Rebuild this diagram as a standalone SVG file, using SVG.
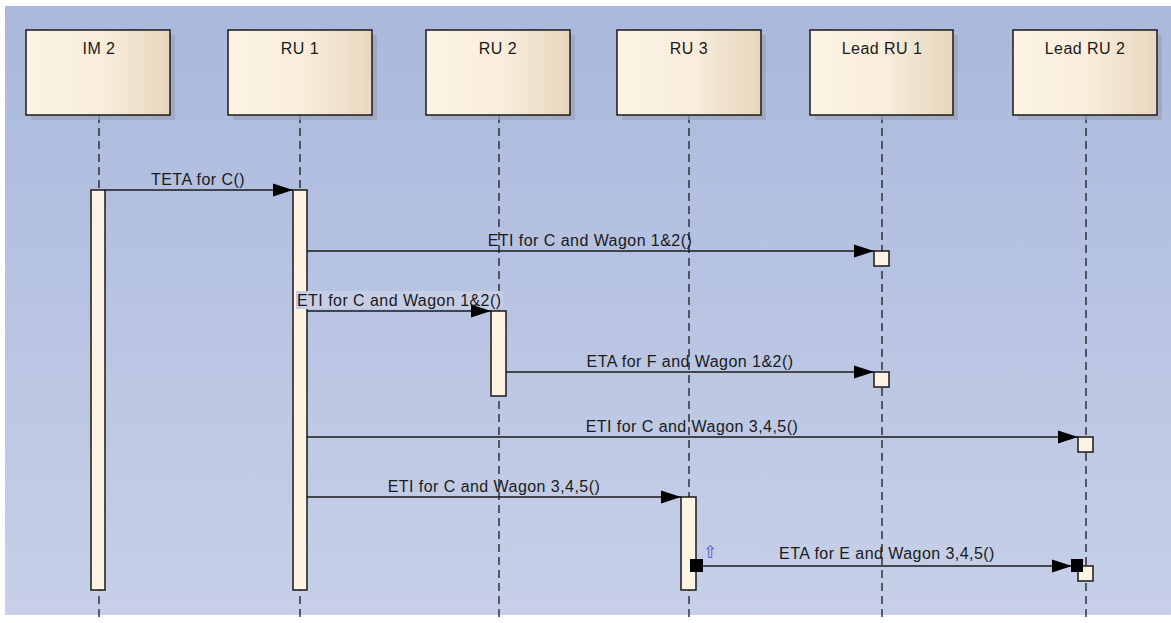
<svg xmlns="http://www.w3.org/2000/svg" width="1171" height="623" viewBox="0 0 1171 623">
<defs>
<linearGradient id="bg" x1="0" y1="0" x2="0" y2="1">
<stop offset="0" stop-color="#a9b8dc"/>
<stop offset="1" stop-color="#c7d0e8"/>
</linearGradient>
<linearGradient id="box" x1="0" y1="0" x2="1" y2="0">
<stop offset="0" stop-color="#fcf3e4"/>
<stop offset="0.5" stop-color="#f9eedd"/>
<stop offset="1" stop-color="#e7d7bd"/>
</linearGradient>
<marker id="ah" markerUnits="userSpaceOnUse" markerWidth="21" markerHeight="14" refX="20" refY="7" orient="auto">
<path d="M0,0.5 L20,7 L0,13.5 z" fill="#000"/>
</marker>
</defs>
<style>
.lbl{font-family:"Liberation Sans",Arial,sans-serif;font-size:16px;letter-spacing:0.45px;fill:#1a1a1a}
.mid{text-anchor:middle}
.shadow{fill:#9aa3b8;opacity:0.7}
.head{fill:url(#box);stroke:#1a1a1a;stroke-width:1.5}
.life{stroke:#1a1a1a;stroke-width:1.3;stroke-dasharray:8,5;fill:none}
.act{fill:#fdf3e3;stroke:#1a1a1a;stroke-width:1.5}
.msg{stroke:#1a1a1a;stroke-width:1.3;fill:none;marker-end:url(#ah)}
</style>
<rect x="0" y="0" width="1171" height="623" fill="#ffffff"/>
<rect x="5" y="6" width="1166" height="609" fill="url(#bg)"/>

<g id="lifelines">
<line class="life" x1="99" y1="115" x2="99" y2="620"/>
<line class="life" x1="300" y1="115" x2="300" y2="620"/>
<line class="life" x1="499" y1="115" x2="499" y2="620"/>
<line class="life" x1="689" y1="115" x2="689" y2="620"/>
<line class="life" x1="882" y1="115" x2="882" y2="620"/>
<line class="life" x1="1086" y1="115" x2="1086" y2="620"/>
</g>

<g id="im2">
<rect class="shadow" x="31" y="35" width="144" height="85"/>
<rect class="head" x="26" y="30" width="144" height="85"/>
<text class="lbl mid" x="99" y="54">IM 2</text>
<rect class="act" x="91" y="190" width="14" height="400"/>
</g>
<g id="ru1">
<rect class="shadow" x="233" y="35" width="144" height="85"/>
<rect class="head" x="228" y="30" width="144" height="85"/>
<text class="lbl mid" x="300" y="54">RU 1</text>
<rect class="act" x="293" y="190" width="14" height="400"/>
</g>
<g id="ru2">
<rect class="shadow" x="431" y="35" width="144" height="85"/>
<rect class="head" x="426" y="30" width="144" height="85"/>
<text class="lbl mid" x="498" y="54">RU 2</text>
<rect class="act" x="491" y="311" width="15" height="85"/>
</g>
<g id="ru3">
<rect class="shadow" x="622" y="35" width="144" height="85"/>
<rect class="head" x="617" y="30" width="144" height="85"/>
<text class="lbl mid" x="689" y="54">RU 3</text>
<rect class="act" x="681" y="497" width="15" height="93"/>
</g>
<g id="leadru1">
<rect class="shadow" x="815" y="35" width="143" height="85"/>
<rect class="head" x="810" y="30" width="143" height="85"/>
<text class="lbl mid" x="882" y="54">Lead RU 1</text>
<rect class="act" x="874" y="251" width="15" height="15"/>
<rect class="act" x="874" y="372" width="15" height="15"/>
</g>
<g id="leadru2">
<rect class="shadow" x="1018" y="35" width="144" height="85"/>
<rect class="head" x="1013" y="30" width="144" height="85"/>
<text class="lbl mid" x="1085" y="54">Lead RU 2</text>
<rect class="act" x="1078" y="437" width="15" height="15"/>
<rect class="act" x="1078" y="566" width="15" height="15"/>
</g>

<g id="connectors">
<line class="msg" x1="105" y1="190" x2="293" y2="190"/>
<text class="lbl mid" x="198" y="185">TETA for C()</text>

<line class="msg" x1="307" y1="251" x2="874" y2="251"/>
<text class="lbl mid" x="590" y="246">ETI for C and Wagon 1&amp;2()</text>

<rect x="296" y="291" width="207" height="18" fill="#c6cee6"/>
<line class="msg" x1="307" y1="311" x2="491" y2="311"/>
<text class="lbl" x="297" y="306">ETI for C and Wagon 1&amp;2()</text>

<line class="msg" x1="506" y1="372" x2="874" y2="372"/>
<text class="lbl mid" x="690" y="367">ETA for F and Wagon 1&amp;2()</text>

<line class="msg" x1="307" y1="437" x2="1078" y2="437"/>
<text class="lbl mid" x="692" y="432">ETI for C and Wagon 3,4,5()</text>

<line class="msg" x1="307" y1="497" x2="681" y2="497"/>
<text class="lbl mid" x="494" y="492">ETI for C and Wagon 3,4,5()</text>

<line class="msg" x1="703" y1="566" x2="1072" y2="566"/>
<rect x="690" y="559" width="13" height="13" fill="#000"/>
<rect x="1071" y="559" width="12" height="13" fill="#000"/>
<text class="lbl mid" x="887" y="559">ETA for E and Wagon 3,4,5()</text>
<text x="710" y="558" font-family="'DejaVu Sans',sans-serif" font-size="17" fill="#5058d8" text-anchor="middle">⇧</text>
</g>
</svg>
